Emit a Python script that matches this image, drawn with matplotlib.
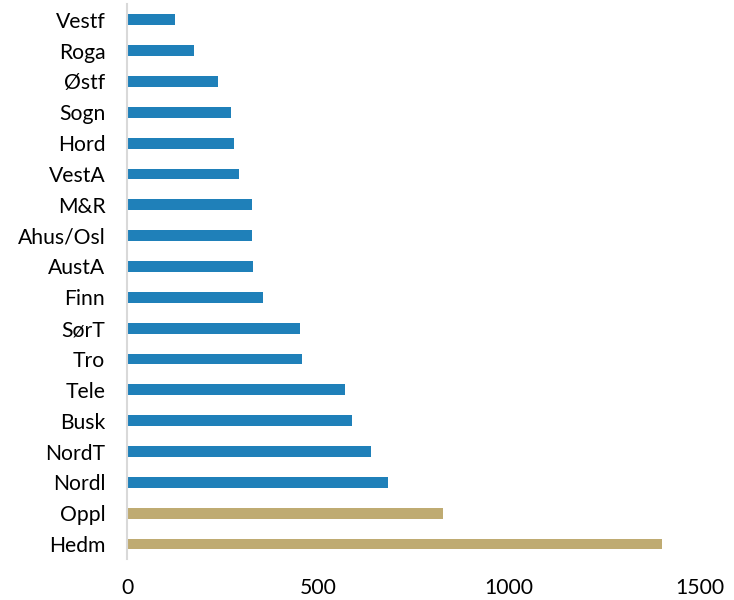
import matplotlib
matplotlib.use("Agg")
import matplotlib.pyplot as plt

# Regions, top to bottom, with their values
regions = ["Vestf", "Roga", "Østf", "Sogn", "Hord", "VestA", "M&R", "Ahus/Osl",
           "AustA", "Finn", "SørT", "Tro", "Tele", "Busk", "NordT", "Nordl",
           "Oppl", "Hedm"]
values = [124, 174, 238, 271, 279, 293, 326, 327, 329, 354, 452, 457, 569,
          589, 637, 682, 826, 1400]
highlighted = ["Oppl", "Hedm"]
x_ticks = [0, 500, 1000, 1500]

blue = "#1F80B9"
gold = "#BFAB72"

plt.rcParams["font.family"] = ["Lato", "DejaVu Sans"]

fig = plt.figure(figsize=(7.34, 6.0), dpi=100)
ax = fig.add_axes([0.1737, 0.0675, 0.9533 - 0.1737, 0.9928 - 0.0675])

colors = [gold if r in highlighted else blue for r in regions]
ypos = list(range(len(regions)))
ax.barh(ypos, values, height=0.35, color=colors)

ax.set_ylim(len(regions) - 0.5, -0.5)
ax.set_xlim(0, 1500)
ax.set_yticks(ypos)
ax.set_yticklabels(regions)
ax.set_xticks(x_ticks)
ax.set_xticklabels([str(t) for t in x_ticks])

for side in ("top", "right", "bottom"):
    ax.spines[side].set_visible(False)
ax.spines["left"].set_color("#D9D9D9")
ax.spines["left"].set_linewidth(1.5)

ax.tick_params(axis="y", length=0, pad=16, labelsize=15.2, labelcolor="black")
ax.tick_params(axis="x", length=0, pad=13, labelsize=15.2, labelcolor="black")

fig.savefig("out.png", dpi=100)
